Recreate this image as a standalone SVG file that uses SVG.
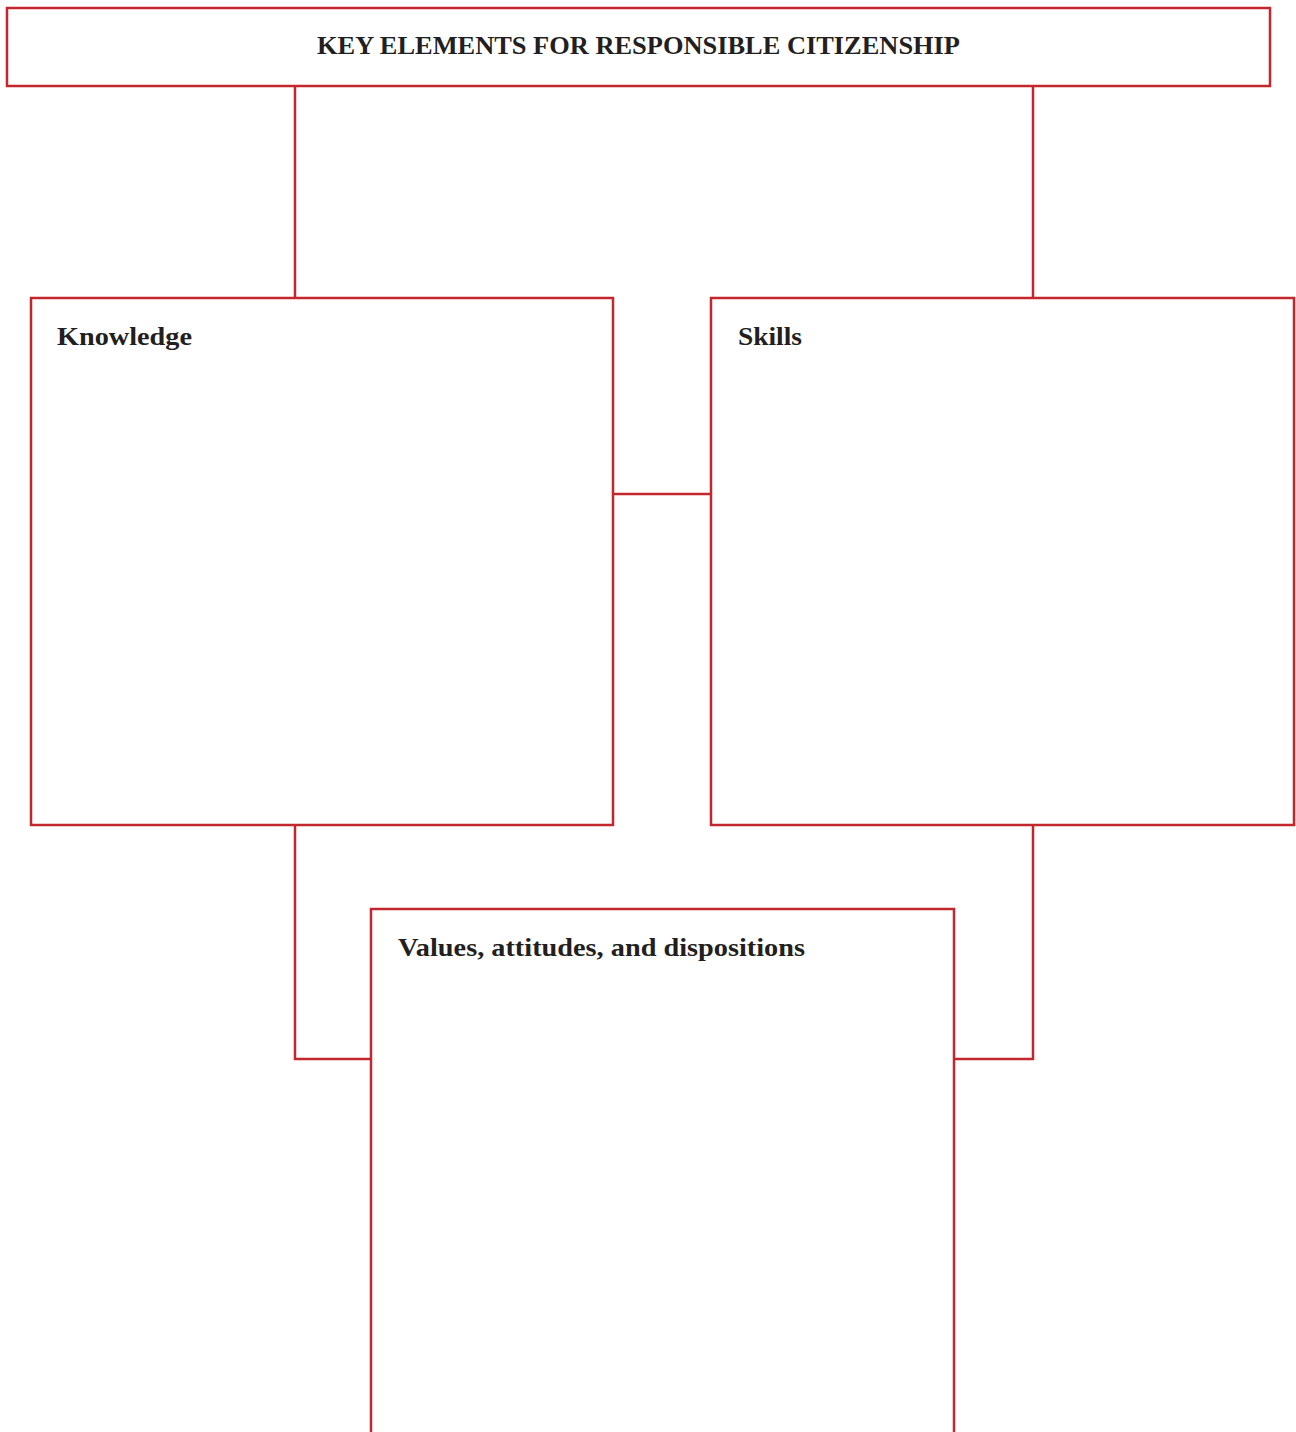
<svg xmlns="http://www.w3.org/2000/svg" width="1296" height="1432" viewBox="0 0 1296 1432">
<style>
.box{fill:#fff;stroke:#c1272d;stroke-width:2.5}
.conn{fill:none;stroke:#c1272d;stroke-width:2.5}
.t{font-family:"Liberation Serif","Times New Roman",serif;font-weight:bold;fill:#231f20}
</style>
<rect width="1296" height="1432" fill="#fff"/>
<g id="connectors">
<path class="conn" d="M295 86V298"/>
<path class="conn" d="M1033 86V298"/>
<path class="conn" d="M613 494H711"/>
<path class="conn" d="M295 825V1059H371"/>
<path class="conn" d="M1033 825V1059H954"/>
</g>
<g id="title">
<rect class="box" x="7" y="8" width="1263" height="78"/>
<text class="t" x="317" y="54" font-size="25" textLength="643" lengthAdjust="spacingAndGlyphs">KEY ELEMENTS FOR RESPONSIBLE CITIZENSHIP</text>
</g>
<g id="knowledge">
<rect class="box" x="31" y="298" width="582" height="527"/>
<text class="t" x="57" y="345" font-size="26" textLength="135" lengthAdjust="spacingAndGlyphs">Knowledge</text>
</g>
<g id="skills">
<rect class="box" x="711" y="298" width="583" height="527"/>
<text class="t" x="738" y="345" font-size="26" textLength="64" lengthAdjust="spacingAndGlyphs">Skills</text>
</g>
<g id="values">
<rect class="box" x="371" y="909" width="583" height="560"/>
<text class="t" x="398" y="956" font-size="26" textLength="407" lengthAdjust="spacingAndGlyphs">Values, attitudes, and dispositions</text>
</g>
</svg>
